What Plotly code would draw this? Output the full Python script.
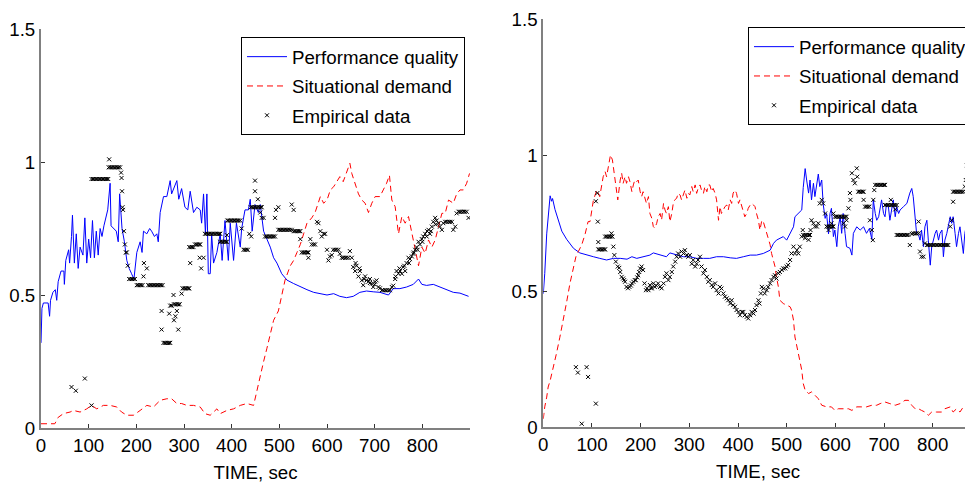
import plotly.graph_objects as go

# ---------------- data ----------------
left_perf = [(0,0.32),(2,0.45),(5,0.47),(15,0.47),(18,0.42),(20,0.48),(25,0.51),(30,0.52),(33,0.48),(36,0.55),
 (42,0.59),(48,0.59),(49,0.54),(52,0.63),(58,0.67),(60,0.62),(64,0.72),(66,0.80),(70,0.62),(74,0.73),(78,0.60),
 (82,0.68),(88,0.65),(92,0.79),(96,0.62),(100,0.71),(104,0.64),(108,0.78),(112,0.64),(116,0.74),(120,0.65),
 (124,0.75),(128,0.72),(132,0.76),(140,0.82),(145,0.92),(147,0.76),(152,0.75),(158,0.74),(162,0.70),(165,0.88),
 (170,0.75),(175,0.70),(180,0.63),(185,0.60),(190,0.58),(195,0.56),(201,0.66),(208,0.70),(212,0.66),(215,0.74),
 (222,0.73),(228,0.75),(232,0.74),(238,0.72),(243,0.73),(246,0.70),(250,0.81),(257,0.87),(264,0.87),(271,0.93),
 (274,0.88),(278,0.90),(285,0.93),(289,0.86),(295,0.90),(302,0.83),(308,0.82),(313,0.89),(320,0.81),(327,0.83),
 (334,0.82),(337,0.77),(341,0.88),(345,0.73),(348,0.88),(351,0.58),(355,0.58),(358,0.73),(362,0.62),(369,0.66),
 (376,0.73),(380,0.63),(386,0.78),(393,0.63),(397,0.77),(404,0.63),(410,0.77),(418,0.68),(421,0.75),(428,0.82),
 (435,0.82),(439,0.86),(443,0.74),(449,0.84),(456,0.81),(460,0.84),(467,0.74),(474,0.71),(481,0.68),(488,0.64),
 (495,0.62),(505,0.58),(516,0.556),(530,0.543),(544,0.53),(558,0.52),(572,0.51),(586,0.505),(600,0.50),
 (614,0.505),(627,0.495),(641,0.49),(655,0.495),(669,0.51),(683,0.515),(697,0.512),(711,0.51),(729,0.50),
 (739,0.524),(753,0.524),(767,0.53),(781,0.54),(792,0.56),(799,0.54),(809,0.536),(823,0.54),(837,0.53),
 (851,0.52),(865,0.51),(879,0.507),(897,0.495)]

left_demand = [(0,0.016),(29,0.016),(36,0.04),(47,0.054),(61,0.06),(68,0.066),(82,0.06),(96,0.072),(106,0.085),
 (117,0.072),(131,0.085),(145,0.085),(159,0.079),(169,0.06),(180,0.048),(194,0.048),(208,0.066),(222,0.085),
 (236,0.079),(250,0.104),(264,0.11),(274,0.11),(285,0.092),(295,0.092),(306,0.085),(320,0.085),(334,0.079),
 (344,0.054),(355,0.048),(369,0.072),(376,0.054),(390,0.066),(404,0.072),(418,0.085),(432,0.092),(446,0.085),
 (453,0.14),(460,0.20),(467,0.25),(474,0.30),(481,0.355),(488,0.405),(498,0.44),(505,0.505),(512,0.556),
 (523,0.61),(530,0.63),(537,0.66),(544,0.69),(551,0.73),(558,0.77),(568,0.79),(575,0.81),(586,0.87),(593,0.845),
 (600,0.857),(607,0.895),(614,0.907),(621,0.926),(627,0.945),(634,0.926),(641,0.957),(648,0.995),(652,0.957),
 (659,0.92),(666,0.88),(673,0.857),(680,0.845),(687,0.81),(694,0.845),(701,0.87),(711,0.87),(718,0.895),
 (725,0.92),(731,0.95),(736,0.857),(743,0.832),(750,0.73),(757,0.795),(764,0.77),(771,0.795),(778,0.73),
 (785,0.68),(792,0.61),(799,0.68),(806,0.657),(813,0.707),(820,0.68),(827,0.707),(834,0.757),(841,0.807),
 (848,0.807),(855,0.857),(865,0.845),(872,0.88),(879,0.895),(886,0.895),(893,0.92),(899,0.957)]

left_emp = [(64,0.154),(73,0.14),(92,0.186),(106,0.085),
 (106,0.936),(109,0.936),(112,0.936),(115,0.936),(118,0.936),(121,0.936),(124,0.936),(127,0.936),(130,0.936),
 (133,0.936),(136,0.936),(139,0.936),(141,0.936),(143,1.01),
 (142,0.98),(145,0.98),(148,0.98),(151,0.98),(154,0.98),(157,0.98),(160,0.98),(163,0.98),(166,0.98),
 (168,0.96),(169,0.94),(170,0.89),(171,0.83),(172,0.82),(174,0.74),(176,0.69),(178,0.66),(180,0.66),(182,0.61),
 (185,0.56),(188,0.56),(191,0.56),(194,0.56),(197,0.56),
 (201,0.537),(204,0.537),(207,0.537),(210,0.537),(213,0.537),(215,0.57),(216,0.62),(222,0.60),
 (225,0.537),(228,0.537),(231,0.537),(234,0.537),(237,0.537),(240,0.537),(243,0.537),(246,0.537),(249,0.537),
 (252,0.537),(255,0.537),
 (253,0.44),(253,0.37),(257,0.32),(260,0.32),(263,0.32),(266,0.32),(269,0.32),(271,0.32),
 (269,0.43),(271,0.46),(274,0.46),(278,0.50),
 (279,0.465),(282,0.465),(285,0.465),(288,0.465),(291,0.465),
 (279,0.405),(282,0.42),(285,0.44),(288,0.37),(295,0.505),
 (297,0.525),(300,0.525),(303,0.525),(306,0.525),(309,0.525),(311,0.525),
 (311,0.68),(314,0.68),(317,0.68),(320,0.68),(313,0.62),
 (323,0.69),(326,0.69),(329,0.69),(332,0.69),(334,0.69),(333,0.64),(336,0.60),(341,0.64),
 (344,0.73),(347,0.73),(350,0.73),(353,0.73),(356,0.73),(359,0.73),(362,0.73),(365,0.73),(368,0.73),(371,0.73),
 (374,0.73),(376,0.73),
 (376,0.70),(379,0.70),(382,0.70),(385,0.70),(388,0.70),(390,0.70),(390,0.725),
 (391,0.78),(394,0.78),(397,0.78),(400,0.78),(403,0.78),(406,0.78),(409,0.78),(412,0.78),(415,0.78),(418,0.78),
 (421,0.75),(425,0.67),(428,0.67),(431,0.67),(434,0.67),(437,0.73),(441,0.72),
 (440,0.83),(443,0.83),(446,0.83),(449,0.83),(452,0.83),(455,0.83),(458,0.83),(461,0.83),(463,0.83),
 (449,0.93),(449,0.89),(455,0.86),(460,0.81),(463,0.79),(467,0.79),
 (470,0.72),(473,0.72),(476,0.72),(479,0.72),(482,0.72),(485,0.72),(488,0.72),(491,0.72),
 (491,0.79),(493,0.82),(498,0.83),
 (498,0.745),(501,0.745),(504,0.745),(507,0.745),(510,0.745),(513,0.745),(516,0.745),(519,0.745),(522,0.745),
 (526,0.745),(526,0.84),(530,0.82),
 (530,0.74),(533,0.74),(536,0.74),(539,0.74),(542,0.74),(544,0.74),(544,0.71),
 (547,0.66),(550,0.66),(553,0.66),(556,0.66),(559,0.66),(561,0.66),(561,0.64),
 (565,0.71),(568,0.69),(572,0.69),(575,0.69),(579,0.775),(582,0.77),(586,0.74),(589,0.72),(593,0.73),(596,0.73),
 (600,0.67),(603,0.63),(606,0.645),(610,0.65),(613,0.67),(617,0.67),(620,0.67),(624,0.67),(627,0.655),
 (631,0.64),(634,0.64),(638,0.64),(641,0.64),(645,0.64),(648,0.665),(652,0.64),(655,0.605),(659,0.59),
 (662,0.61),(666,0.57),(669,0.59),(673,0.555),(676,0.537),(680,0.57),(683,0.555),(687,0.55),(690,0.56),
 (694,0.543),(697,0.53),(701,0.55),(704,0.555),(708,0.53),(711,0.525),(715,0.518),(718,0.518),(722,0.518),
 (725,0.518),(729,0.518),(732,0.518),(736,0.53),(739,0.535),(743,0.56),(746,0.59),(750,0.58),(753,0.59),
 (757,0.58),(760,0.605),(764,0.59),(767,0.62),(771,0.64),(774,0.635),(778,0.645),(781,0.655),(785,0.67),
 (788,0.68),(792,0.70),(795,0.69),(799,0.71),(802,0.72),(806,0.73),(809,0.72),(813,0.745),(816,0.73),
 (820,0.757),(823,0.775),(827,0.79),(830,0.78),(834,0.77),(837,0.757),(841,0.745),(844,0.77),(848,0.775),
 (851,0.775),(855,0.775),(858,0.775),(862,0.775),(865,0.745),(869,0.757),(872,0.807),(876,0.813),(879,0.813),
 (882,0.813),(886,0.813),(889,0.813),(893,0.813),(897,0.79),
 (660,0.62),(668,0.60),(678,0.56),(690,0.545),(700,0.54),(744,0.57),(752,0.60),(762,0.61),(772,0.62),
 (782,0.66),(790,0.67),(800,0.70),(810,0.74),(818,0.74),(828,0.765)]

right_perf = [(0,0.49),(3,0.565),(7,0.71),(10,0.77),(14,0.85),(17,0.83),(19,0.84),(24,0.80),(31,0.76),(38,0.72),
 (48,0.69),(62,0.657),(75,0.64),(89,0.632),(103,0.626),(116,0.62),(130,0.614),(144,0.62),(158,0.62),(172,0.617),
 (182,0.626),(192,0.62),(205,0.626),(219,0.632),(226,0.64),(240,0.632),(253,0.626),(260,0.64),(274,0.632),
 (288,0.626),(301,0.626),(315,0.62),(329,0.62),(342,0.62),(356,0.626),(370,0.626),(384,0.622),(397,0.62),
 (411,0.626),(425,0.632),(438,0.632),(452,0.638),(466,0.65),(473,0.675),(479,0.687),(486,0.693),(493,0.70),
 (500,0.687),(507,0.71),(514,0.736),(517,0.773),(524,0.785),(531,0.798),(534,0.88),(538,0.95),(541,0.908),
 (545,0.86),(548,0.908),(551,0.835),(555,0.896),(558,0.847),(565,0.93),(568,0.884),(572,0.908),(575,0.82),
 (579,0.767),(582,0.785),(586,0.71),(589,0.785),(592,0.804),(596,0.70),(599,0.724),(603,0.663),(606,0.736),
 (610,0.773),(613,0.712),(616,0.785),(620,0.712),(623,0.663),(630,0.657),(634,0.632),(637,0.712),(644,0.736),
 (651,0.724),(658,0.736),(664,0.712),(670,0.73),(675,0.69),(678,0.835),(682,0.785),(685,0.76),(689,0.773),
 (692,0.81),(695,0.835),(699,0.785),(702,0.773),(705,0.82),(709,0.81),(712,0.76),(716,0.81),(719,0.835),
 (723,0.773),(726,0.81),(730,0.785),(733,0.798),(740,0.81),(747,0.822),(753,0.86),(757,0.877),(760,0.847),
 (764,0.76),(767,0.71),(771,0.706),(774,0.687),(777,0.724),(781,0.663),(784,0.736),(788,0.76),(791,0.687),
 (795,0.595),(798,0.663),(801,0.687),(805,0.712),(808,0.724),(812,0.687),(815,0.712),(819,0.724),(822,0.626),
 (825,0.687),(829,0.712),(832,0.736),(836,0.773),(839,0.749),(842,0.773),(846,0.712),(849,0.663),(853,0.712),
 (856,0.736),(863,0.638),(866,0.712),(870,0.749),(873,0.687),(877,0.749),(880,0.675),(884,0.70)]

right_demand = [(0,0.03),(3,0.074),(7,0.11),(10,0.147),(14,0.17),(21,0.22),(27,0.27),(34,0.33),(41,0.39),
 (48,0.46),(55,0.53),(62,0.59),(67,0.626),(72,0.645),(79,0.67),(86,0.71),(92,0.755),(96,0.755),(99,0.785),
 (103,0.835),(110,0.871),(116,0.847),(123,0.92),(127,0.939),(130,0.92),(134,0.963),(138,1.0),(142,0.982),
 (145,0.945),(149,0.896),(153,0.835),(158,0.908),(161,0.933),(164,0.896),(168,0.92),(171,0.896),(175,0.92),
 (178,0.902),(182,0.865),(185,0.89),(188,0.908),(192,0.902),(195,0.908),(199,0.865),(202,0.847),(205,0.865),
 (209,0.835),(212,0.822),(216,0.847),(219,0.785),(223,0.767),(226,0.737),(229,0.731),(233,0.749),(236,0.773),
 (240,0.785),(243,0.761),(247,0.822),(250,0.798),(253,0.785),(257,0.81),(260,0.755),(264,0.785),(267,0.822),
 (270,0.835),(274,0.841),(277,0.859),(281,0.853),(284,0.835),(288,0.859),(291,0.871),(295,0.841),(298,0.859),
 (301,0.853),(305,0.884),(308,0.865),(312,0.89),(315,0.859),(318,0.877),(322,0.89),(325,0.871),(329,0.859),
 (332,0.884),(336,0.865),(339,0.89),(342,0.89),(346,0.865),(349,0.877),(353,0.859),(356,0.835),(360,0.76),
 (363,0.81),(366,0.785),(370,0.798),(373,0.81),(377,0.816),(380,0.798),(384,0.835),(387,0.822),(390,0.86),
 (394,0.871),(397,0.859),(401,0.822),(404,0.835),(408,0.81),(411,0.785),(414,0.773),(418,0.785),(421,0.804),
 (425,0.816),(428,0.822),(432,0.816),(435,0.81),(438,0.785),(442,0.76),(445,0.724),(449,0.76),(452,0.755),
 (455,0.737),(459,0.712),(462,0.70),(466,0.67),(469,0.638),(473,0.614),(476,0.59),(479,0.552),(483,0.515),
 (486,0.466),(490,0.46),(493,0.454),(500,0.448),(507,0.442),(510,0.43),(514,0.393),(517,0.331),(521,0.295),
 (524,0.27),(527,0.245),(531,0.209),(534,0.16),(538,0.135),(545,0.123),(551,0.129),(558,0.117),(565,0.104),
 (572,0.08),(582,0.074),(592,0.074),(599,0.061),(606,0.067),(616,0.067),(627,0.067),(634,0.061),(644,0.074),
 (654,0.074),(664,0.074),(675,0.08),(685,0.08),(692,0.086),(702,0.092),(712,0.086),(723,0.08),(733,0.086),
 (743,0.098),(750,0.098),(757,0.08),(764,0.067),(771,0.067),(777,0.061),(784,0.055),(791,0.043),(798,0.055),
 (808,0.055),(818,0.055),(825,0.067),(836,0.074),(842,0.055),(849,0.067),(856,0.055),(863,0.074),(870,0.067),
 (877,0.061),(884,0.067)]

right_emp = [(67,0.22),(71,0.20),(79,0.012),(89,0.22),(92,0.184),(108,0.086),(108,0.83),(111,0.86),(112,0.755),
 (113,0.68),(113,0.653),(116,0.653),(119,0.653),(122,0.653),(125,0.653),(127,0.653),
 (127,0.70),(130,0.70),(133,0.70),(136,0.70),(139,0.70),(142,0.70),(140,0.712),(144,0.663),(146,0.632),
 (149,0.608),(153,0.59),(156,0.585),(158,0.57),(161,0.552),(164,0.546),(166,0.54),(168,0.534),(171,0.515),
 (174,0.51),(177,0.515),(180,0.52),(182,0.528),(185,0.534),(188,0.54),(190,0.54),(193,0.55),(195,0.558),
 (197,0.57),(199,0.583),(202,0.59),(205,0.577),(208,0.528),(211,0.503),(213,0.51),(216,0.503),(219,0.522),
 (221,0.51),(223,0.51),(226,0.528),(229,0.515),(232,0.52),(236,0.528),(240,0.515),(243,0.51),(247,0.528),
 (250,0.552),(253,0.565),(257,0.54),(260,0.552),(264,0.57),(267,0.59),(271,0.608),(274,0.626),(277,0.638),
 (281,0.626),(284,0.645),(288,0.638),(291,0.65),(295,0.632),(298,0.626),(301,0.632),(305,0.60),(308,0.614),
 (312,0.59),(315,0.60),(318,0.614),(322,0.626),(325,0.59),(329,0.565),(332,0.577),(336,0.552),(339,0.534),
 (342,0.54),(346,0.522),(349,0.515),(353,0.528),(356,0.503),(360,0.491),(363,0.515),(366,0.509),(370,0.491),
 (373,0.479),(377,0.473),(380,0.466),(384,0.454),(387,0.466),(390,0.448),(394,0.442),(397,0.43),(401,0.423),
 (404,0.411),(408,0.423),(411,0.423),(414,0.411),(418,0.405),(421,0.399),(425,0.411),(428,0.423),(432,0.417),
 (435,0.43),(438,0.448),(442,0.466),(444,0.454),(447,0.491),(449,0.515),(452,0.509),(455,0.491),(459,0.503),
 (462,0.515),(466,0.528),(469,0.54),(473,0.552),(476,0.558),(479,0.546),(483,0.565),(486,0.57),(490,0.577),
 (493,0.583),(497,0.583),(500,0.59),(503,0.596),(507,0.614),(510,0.638),(514,0.663),(517,0.638),(521,0.65),
 (524,0.638),(527,0.663),(531,0.70),(533,0.724),
 (534,0.706),(537,0.706),(540,0.706),(543,0.706),(546,0.706),(548,0.706),(538,0.694),(545,0.688),(549,0.724),
 (551,0.76),(555,0.749),(558,0.737),(562,0.737),(565,0.749),(568,0.822),(572,0.835),(575,0.822),(579,0.785),
 (582,0.737),(585,0.737),(588,0.737),(591,0.737),(594,0.737),(596,0.737),(586,0.724),(592,0.749),(596,0.785),
 (599,0.773),(602,0.773),(605,0.773),(608,0.773),(611,0.773),(614,0.773),(617,0.773),(620,0.773),(623,0.773),
 (617,0.749),(620,0.737),(623,0.76),(627,0.804),(630,0.86),(631,0.835),(634,0.933),(637,0.908),(640,0.896),
 (644,0.951),(645,0.92),
 (647,0.865),(650,0.865),(653,0.865),(656,0.865),(658,0.865),(658,0.835),
 (661,0.81),(664,0.81),(667,0.81),(670,0.81),(671,0.76),(675,0.724),(677,0.687),(678,0.835),(680,0.871),
 (682,0.89),(685,0.89),(688,0.89),(691,0.89),(694,0.89),(697,0.89),(700,0.89),(702,0.89),
 (702,0.816),(705,0.816),(708,0.816),(711,0.816),(714,0.816),(717,0.816),(720,0.816),(723,0.816),(726,0.816),
 (714,0.835),(723,0.80),
 (726,0.706),(729,0.706),(732,0.706),(735,0.706),(738,0.706),(741,0.706),(744,0.706),(747,0.706),(750,0.706),
 (753,0.669),(757,0.71),(760,0.712),(764,0.712),(767,0.712),(771,0.755),(771,0.712),(774,0.645),(777,0.626),
 (781,0.626),(784,0.675),
 (788,0.669),(791,0.669),(794,0.669),(797,0.669),(800,0.669),(803,0.669),(806,0.669),(809,0.669),(812,0.669),
 (815,0.669),(818,0.669),(821,0.669),(824,0.669),(827,0.669),(830,0.669),(832,0.669),
 (836,0.737),(839,0.76),(842,0.828),
 (842,0.865),(845,0.865),(848,0.865),(851,0.865),(854,0.865),(857,0.865),(860,0.865),(863,0.865),
 (866,0.884),(868,0.908),(870,0.963),(873,1.01),(877,1.086),(879,1.10)]

series_names = ["Performance quality", "Situational demand", "Empirical data"]
x_tick_vals = [0, 100, 200, 300, 400, 500, 600, 700, 800]
y_tick_vals = [0, 0.5, 1, 1.5]
y_tick_text = ["0", "0.5", "1", "1.5"]
x_title = "TIME, sec"

# ---------------- figure ----------------
# the page body has an 8px margin, so the figure starts at (8, 8) on screen
OFF = 8
W, H = 973 - OFF, 483 - OFF
FONT = "Liberation Sans, Arial, sans-serif"
FS = 18.7


def fx(px):  # screen x -> paper fraction
    return (px - OFF) / W


def fy(py):  # screen y -> paper fraction
    return 1 - (py - OFF) / H


def xy(pairs):
    return [p[0] for p in pairs], [p[1] for p in pairs]


fig = go.Figure()
panels = [
    (left_perf, left_demand, left_emp, "x", "y", "legend"),
    (right_perf, right_demand, right_emp, "x2", "y2", "legend2"),
]
for k, (perf, dem, emp, xa, ya, lg) in enumerate(panels):
    px_, py_ = xy(perf)
    fig.add_trace(go.Scatter(x=px_, y=py_, mode="lines", name=series_names[0],
                             legendgroup=f"p{k}a",
                             line=dict(color="#0000ff", width=1), xaxis=xa, yaxis=ya, legend=lg))
    dx_, dy_ = xy(dem)
    fig.add_trace(go.Scatter(x=dx_, y=dy_, mode="lines", name=series_names[1],
                             legendgroup=f"p{k}b",
                             line=dict(color="#ff0000", width=1, dash="6px,4px"),
                             xaxis=xa, yaxis=ya, legend=lg))
    ex_, ey_ = xy(emp)
    fig.add_trace(go.Scatter(x=ex_, y=ey_, mode="markers", name=series_names[2],
                             legendgroup=f"p{k}c",
                             marker=dict(symbol="x-thin", size=4, color="black",
                                         line=dict(color="black", width=1)),
                             xaxis=xa, yaxis=ya, legend=lg))


def xaxis(domain, rng, anchor):
    return dict(domain=domain, range=rng, tickvals=x_tick_vals, ticks="inside", ticklen=4,
                tickcolor="#333333", showline=True, linecolor="#808080", linewidth=2,
                showgrid=False, zeroline=False, anchor=anchor, automargin=False,
                tickfont=dict(family=FONT, size=FS, color="black"),
                title=dict(text=x_title, font=dict(family=FONT, size=FS, color="black"), standoff=10))


def yaxis(domain, anchor):
    return dict(domain=domain, range=[0, 1.5], tickvals=y_tick_vals, ticktext=y_tick_text,
                ticks="inside", ticklen=4, tickcolor="#333333", showline=True, linecolor="#808080",
                linewidth=2, showgrid=False, zeroline=False, anchor=anchor, automargin=False,
                tickfont=dict(family=FONT, size=FS, color="black"))


legend_common = dict(xanchor="left", yanchor="top", bgcolor="white", bordercolor="black",
                     borderwidth=1, itemwidth=40, tracegroupgap=2, traceorder="grouped",
                     font=dict(family=FONT, size=FS, color="black"))

fig.update_layout(
    width=W, height=H,
    margin=dict(l=0, r=0, t=0, b=0, autoexpand=False),
    paper_bgcolor="white", plot_bgcolor="white",
    font=dict(family=FONT, size=FS, color="black"),
    xaxis=xaxis([fx(41), fx(470)], [0, 900], "y"),
    yaxis=yaxis([fy(428), fy(29)], "x"),
    xaxis2=xaxis([fx(543.3), 1.0], [0, 882.8], "y2"),
    yaxis2=yaxis([fy(427), fy(19)], "x2"),
    legend=dict(x=fx(241), y=fy(37), **legend_common),
    legend2=dict(x=fx(748), y=fy(27), **legend_common),
    showlegend=True,
)

fig.write_html("out.html")
